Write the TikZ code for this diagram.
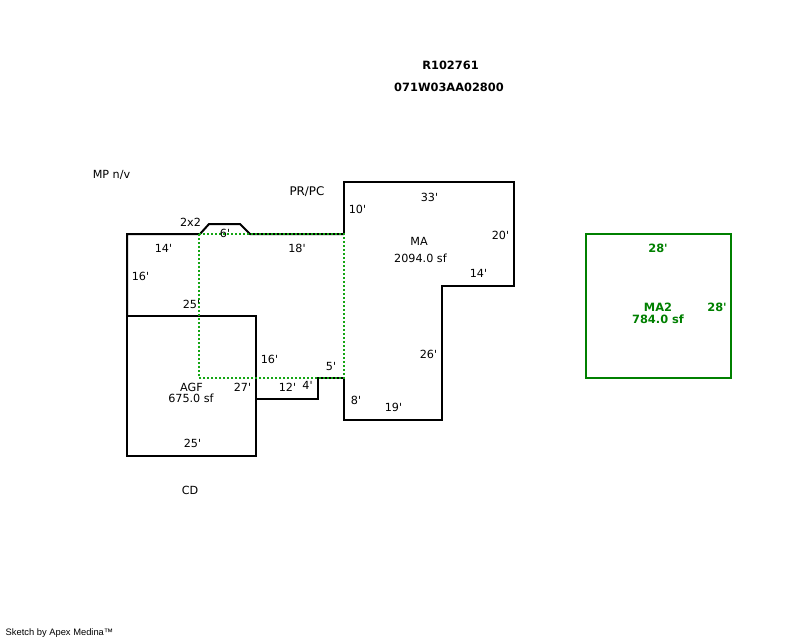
\documentclass[tikz,border=0pt]{standalone}
\usepackage{fontspec}
\setmainfont[Ligatures=TeXOff]{DejaVu Sans}
\newfontfamily\footfont{Liberation Sans}
\definecolor{dkgreen}{RGB}{0,128,0}
\definecolor{dotgreen}{RGB}{20,165,20}
\tikzset{
 lbl/.style={inner sep=0pt,font=\fontsize{11.2}{13}\selectfont,text=black,anchor=center},
 widelbl/.style={inner sep=0pt,font=\fontsize{11.9}{13}\selectfont,text=black,anchor=center},
 boldlbl/.style={inner sep=0pt,font=\fontsize{11.4}{13}\selectfont\bfseries,text=black,anchor=center},
 greenlbl/.style={inner sep=0pt,font=\fontsize{11.4}{13}\selectfont\bfseries,text=dkgreen,anchor=center},
 wall/.style={draw=black,line width=2pt,line join=miter},
 greenwall/.style={draw=dkgreen,line width=2pt},
 dotted wall/.style={draw=dotgreen,line width=2pt,dash pattern=on 2pt off 2pt},
}
\begin{document}
\begin{tikzpicture}[x=1pt,y=-1pt]
\useasboundingbox (0,0) rectangle (800,640);
\fill[white] (0,0) rectangle (800,640);
% outlines
\draw[wall] (344,234) -- (344,182) -- (514,182) -- (514,286) -- (442,286) -- (442,420) -- (344,420) -- (344,378) -- (318,378) -- (318,399) -- (256,399);
\draw[wall] (127,316) rectangle (256,456);
\draw[wall] (127,316) -- (127,234) -- (200,234) -- (209,224) -- (240,224) -- (250,234) -- (344,234);
\draw[dotted wall] (199,234) -- (344,234) -- (344,378) -- (199,378) -- cycle;
\draw[greenwall] (586,234) rectangle (731,378);
% title
\node[boldlbl] (t1) at (450.5,65) {R102761};
\node[boldlbl] (t2) at (449,87) {071W03AA02800};
\node[lbl] (mp) at (111.5,175) {MP n/v};
\node[widelbl] (pr) at (307,192) {PR/PC};
\node[lbl] (a1) at (190.5,222) {2x2};
\node[lbl] (a2) at (225,233) {6'};
\node[lbl] (a3) at (163.5,248) {14'};
\node[lbl] (a4) at (297,248) {18'};
\node[lbl] (a5) at (140.5,276) {16'};
\node[lbl] (a6) at (191.5,304) {25'};
\node[lbl] (a7) at (357.5,209) {10'};
\node[lbl] (a8) at (429.5,197) {33'};
\node[lbl] (a9) at (500.5,235) {20'};
\node[lbl] (a10) at (478.5,273) {14'};
\node[lbl] (ma) at (419,241) {MA};
\node[lbl] (mas) at (420.5,258) {2094.0 sf};
\node[lbl] (a11) at (428.5,354) {26'};
\node[lbl] (a12) at (269.5,359) {16'};
\node[lbl] (a13) at (331,366) {5'};
\node[lbl] (a14) at (356,400) {8'};
\node[lbl] (a15) at (393.5,407) {19'};
\node[lbl] (a16) at (287.5,387) {12'};
\node[lbl] (a17) at (307.5,385) {4'};
\node[lbl] (a18) at (242.5,387) {27'};
\node[lbl] (agf) at (191.5,387) {AGF};
\node[lbl] (agfs) at (191,398) {675.0 sf};
\node[lbl] (a19) at (192.5,443) {25'};
\node[lbl] (cd) at (190,490) {CD};
% MA2
\node[greenlbl] (g1) at (658,248) {28'};
\node[greenlbl] (g2) at (717,307) {28'};
\node[greenlbl] (g3) at (658,307) {MA2};
\node[greenlbl] (g4) at (658,319) {784.0 sf};
\node[inner sep=0pt,font=\footfont\fontsize{9.35}{10}\selectfont] (foot) at (59.5,633) {Sketch by Apex Medina™};
\end{tikzpicture}
\end{document}
